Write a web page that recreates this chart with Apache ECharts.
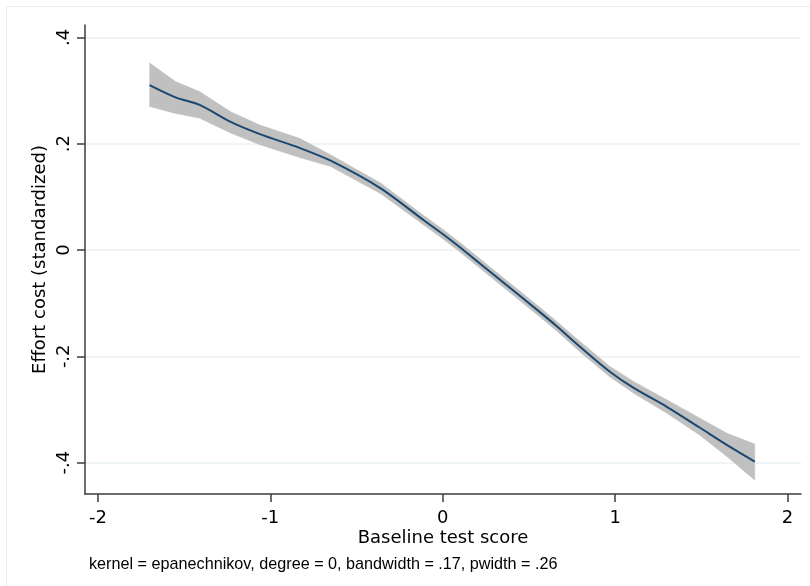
<!DOCTYPE html>
<html>
<head>
<meta charset="utf-8">
<script src="https://cdn.jsdelivr.net/npm/echarts@6/dist/echarts.min.js"></script>
<style>
html,body{margin:0;padding:0;background:#fff;}
#chart{width:810px;height:586px;}
</style>
</head>
<body>
<div id="chart"></div>
<script>
// Baseline test score (x) for the lowess fit
var xValues = [-1.70, -1.55, -1.41, -1.23, -1.06, -0.83, -0.65, -0.36, -0.11, 0.00, 0.10, 0.37, 0.56, 0.66, 0.80, 0.97, 1.11, 1.30, 1.49, 1.65, 1.81];
// Fitted effort cost
var fitValues = [0.310, 0.287, 0.273, 0.241, 0.218, 0.192, 0.168, 0.116, 0.056, 0.030, 0.005, -0.066, -0.116, -0.143, -0.183, -0.229, -0.260, -0.295, -0.334, -0.367, -0.398];
// Confidence band
var ciUpper = [0.352, 0.317, 0.298, 0.260, 0.235, 0.210, 0.179, 0.126, 0.065, 0.039, 0.014, -0.057, -0.107, -0.134, -0.173, -0.219, -0.248, -0.282, -0.316, -0.345, -0.365];
var ciLower = [0.270, 0.257, 0.248, 0.220, 0.198, 0.174, 0.157, 0.106, 0.047, 0.021, -0.004, -0.075, -0.125, -0.152, -0.193, -0.239, -0.270, -0.307, -0.348, -0.389, -0.433];
// Tick values and labels
var xTicks = [-2, -1, 0, 1, 2];
var xTickLabels = ['-2', '-1', '0', '1', '2'];
var yTicks = [-0.4, -0.2, 0, 0.2, 0.4];
var yTickLabels = ['-.4', '-.2', '0', '.2', '.4'];
var xTitle = 'Baseline test score';
var yTitle = 'Effort cost (standardized)';
var noteText = 'kernel = epanechnikov, degree = 0, bandwidth = .17, pwidth = .26';

var FONT = '"DejaVu Sans", "Liberation Sans", Arial, sans-serif';
var NOTE_FONT = '"Liberation Sans", Arial, sans-serif';

function labelFor(ticks, labels) {
  return function (v) {
    for (var i = 0; i < ticks.length; i++) {
      if (Math.abs(ticks[i] - v) < 1e-6) return labels[i];
    }
    return '';
  };
}

var bandData = xValues.map(function (x, i) { return [x, ciLower[i], ciUpper[i]]; });
var fitData = xValues.map(function (x, i) { return [x, fitValues[i]]; });

function renderBand(params, api) {
  if (params.dataIndex !== 0) return null;
  var upperPts = [], lowerPts = [];
  for (var i = 0; i < bandData.length; i++) {
    upperPts.push(api.coord([bandData[i][0], bandData[i][2]]));
    lowerPts.push(api.coord([bandData[i][0], bandData[i][1]]));
  }
  var pts = upperPts.concat(lowerPts.reverse());
  return {
    type: 'polygon',
    shape: {points: pts},
    style: {fill: '#c0c0c0', stroke: '#c0c0c0', lineWidth: 0.5},
    silent: true
  };
}

var chart = echarts.init(document.getElementById('chart'), null, {renderer: 'canvas'});
var axisColor = '#3c3c3c';
chart.setOption({
  animation: false,
  backgroundColor: '#ffffff',
  grid: {left: 85, right: 9, top: 25, bottom: 92, containLabel: false},
  xAxis: {
    type: 'value',
    min: -2.0749, max: 2.0783,
    name: xTitle,
    nameLocation: 'middle',
    nameGap: 35,
    nameMoveOverlap: false,
    nameTextStyle: {fontFamily: FONT, fontSize: 18, color: '#000'},
    axisLine: {show: true, onZero: false, lineStyle: {color: axisColor, width: 1.5}},
    axisTick: {show: true, length: 8, customValues: xTicks, lineStyle: {color: axisColor, width: 1.5}},
    axisLabel: {show: true, customValues: xTicks, margin: 15, fontFamily: FONT, fontSize: 18, color: '#000',
      formatter: labelFor(xTicks, xTickLabels)},
    splitLine: {show: false}
  },
  yAxis: {
    type: 'value',
    min: -0.4591, max: 0.4233,
    name: yTitle,
    nameLocation: 'middle',
    nameGap: 36,
    nameRotate: 90,
    nameMoveOverlap: false,
    nameTextStyle: {fontFamily: FONT, fontSize: 18, color: '#000'},
    axisLine: {show: true, onZero: false, lineStyle: {color: axisColor, width: 1.5}},
    axisTick: {show: true, length: 8, customValues: yTicks, lineStyle: {color: axisColor, width: 1.5}},
    axisLabel: {show: true, customValues: yTicks, rotate: 90, margin: 12, fontFamily: FONT, fontSize: 18, color: '#000',
      formatter: labelFor(yTicks, yTickLabels)},
    splitLine: {show: true, lineStyle: {color: '#eaf2f3', width: 1.5}}
  },
  graphic: [
    {type: 'rect', left: 4, top: 4, shape: {width: 900, height: 900}, silent: true, z: -10,
      style: {fill: 'none', stroke: '#eeeeee', lineWidth: 1}},
    {type: 'text', left: 89, top: 557, silent: true,
      style: {text: noteText, fontFamily: NOTE_FONT, fontSize: 16.2, fill: '#000'}}
  ],
  series: [
    {
      type: 'custom', name: 'ciBand', data: bandData, renderItem: renderBand,
      encode: {x: 0, y: [1, 2]}, clip: true, silent: true, z: 1
    },
    {
      type: 'line', name: 'fit', data: fitData, smooth: 0.3,
      symbol: 'none', lineStyle: {color: '#1a476f', width: 2}, z: 3
    }
  ]
});
</script>
</body>
</html>
